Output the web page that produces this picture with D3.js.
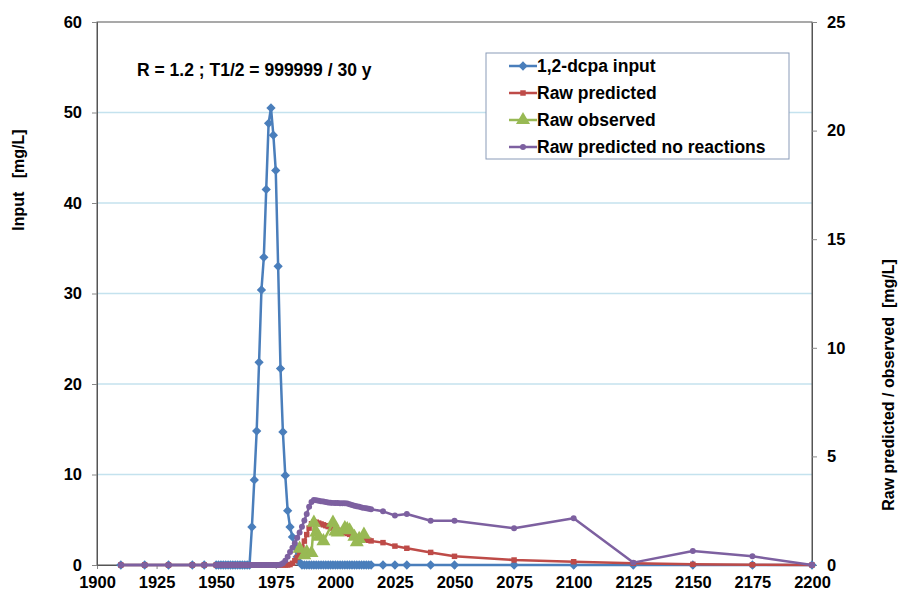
<!DOCTYPE html>
<html>
<head>
<meta charset="utf-8">
<script src="https://cdn.jsdelivr.net/npm/d3@7"></script>
<style>
  body { margin: 0; background: #fff; }
  svg text { font-family: "Liberation Sans", Arial, sans-serif; font-weight: bold; fill: #000; }
</style>
</head>
<body>
<div id="chart"></div>
<script>
// model years (same x for input, predicted and predicted no reactions)
const years = [1910, 1920, 1930, 1940, 1945,
    1950, 1951, 1952, 1953, 1954, 1955, 1956, 1957, 1958, 1959,
    1960, 1961, 1962, 1963, 1964, 1965, 1966, 1967, 1968, 1969,
    1970, 1971, 1972, 1973, 1974, 1975, 1976, 1977, 1978, 1979,
    1980, 1981, 1982, 1983, 1984, 1985, 1986, 1987, 1988, 1989,
    1990, 1991, 1992, 1993, 1994, 1995, 1996, 1997, 1998, 1999,
    2000, 2001, 2002, 2003, 2004, 2005, 2006, 2007, 2008, 2009,
    2010, 2011, 2012, 2013, 2014, 2015,
    2020, 2025, 2030, 2040, 2050, 2075, 2100, 2125, 2150, 2175, 2200];

const input = [0, 0, 0, 0, 0,
    0, 0, 0, 0, 0, 0, 0, 0, 0, 0,
    0, 0, 0, 0, 0, 4.2, 9.4, 14.8, 22.4, 30.4,
    34.0, 41.5, 48.8, 50.5, 47.5, 43.6, 33.0, 21.7, 14.7, 9.9,
    6.0, 4.2, 3.1, 2.0, 0.9, 0.3, 0, 0, 0, 0,
    0, 0, 0, 0, 0, 0, 0, 0, 0, 0,
    0, 0, 0, 0, 0, 0, 0, 0, 0, 0,
    0, 0, 0, 0, 0, 0,
    0, 0, 0, 0, 0, 0, 0, 0, 0, 0, 0];

const predicted = [0, 0, 0, 0, 0,
    0, 0, 0, 0, 0, 0, 0, 0, 0, 0,
    0, 0, 0, 0, 0, 0, 0, 0, 0, 0,
    0, 0, 0, 0, 0, 0, 0, 0, 0, 0,
    0, 0.02, 0.08, 0.2, 0.35, 0.55, 0.8, 1.1, 1.4, 1.7,
    1.9, 1.98, 1.97, 1.93, 1.89, 1.85, 1.81, 1.77, 1.73, 1.69,
    1.65, 1.61, 1.57, 1.53, 1.49, 1.45, 1.41, 1.37, 1.33, 1.29,
    1.26, 1.23, 1.2, 1.17, 1.14, 1.11,
    1.03, 0.87, 0.77, 0.58, 0.40, 0.23, 0.15, 0.08, 0.03, 0.01, 0];

const noReactions = [0, 0, 0, 0, 0,
    0, 0, 0, 0, 0, 0, 0, 0, 0, 0,
    0, 0, 0, 0, 0, 0, 0, 0, 0, 0,
    0, 0, 0, 0, 0, 0, 0, 0.02, 0.08, 0.2,
    0.38, 0.6, 0.8, 1.0, 1.25, 1.5, 1.76, 2.05, 2.35, 2.68,
    2.9, 2.99, 2.98, 2.96, 2.94, 2.92, 2.9, 2.88, 2.87, 2.86,
    2.85, 2.85, 2.84, 2.84, 2.84, 2.83, 2.8, 2.76, 2.73, 2.7,
    2.68, 2.65, 2.63, 2.61, 2.59, 2.57,
    2.47, 2.28, 2.35, 2.04, 2.04, 1.69, 2.15, 0.11, 0.64, 0.4, 0];

const obsYears = [1985, 1987, 1988, 1990, 1991, 1992, 1993, 1995, 1999,
    2000, 2001, 2004, 2005, 2006, 2008, 2009, 2010, 2012];
const observed = [0.75, 0.45, 0.6, 0.55, 1.95, 1.5, 1.3, 1.1, 1.95,
    1.55, 1.5, 1.7, 1.65, 1.6, 1.3, 1.05, 1.2, 1.4];

const xTicks = [1900, 1925, 1950, 1975, 2000, 2025, 2050, 2075, 2100, 2125, 2150, 2175, 2200];
const leftTicks = [0, 10, 20, 30, 40, 50, 60];
const rightTicks = [0, 5, 10, 15, 20, 25];

const legendLabels = ["1,2-dcpa input", "Raw predicted", "Raw observed", "Raw predicted no reactions"];

const width = 899, height = 594;
const margin = { left: 97, right: 87, top: 22, bottom: 29 };

const svg = d3.select("#chart").append("svg")
    .attr("width", width)
    .attr("height", height);

var xScale = d3.scaleLinear().domain([1900, 2200]).range([margin.left, width - margin.right]);
var yLeft = d3.scaleLinear().domain([0, 60]).range([height - margin.bottom, margin.top]);
var yRight = d3.scaleLinear().domain([0, 25]).range([height - margin.bottom, margin.top]);

// gridlines
svg.append("g")
    .selectAll("line")
    .data(leftTicks.filter(d => d > 0 && d < 60))
    .enter()
    .append("line")
    .attr("x1", xScale(1900))
    .attr("x2", xScale(2200))
    .attr("y1", d => yLeft(d))
    .attr("y2", d => yLeft(d))
    .attr("stroke", "#c4e2ee")
    .attr("stroke-width", 1.5);

// plot border
svg.append("rect")
    .attr("x", xScale(1900))
    .attr("y", yLeft(60))
    .attr("width", xScale(2200) - xScale(1900))
    .attr("height", yLeft(0) - yLeft(60))
    .attr("fill", "none")
    .attr("stroke", "#555")
    .attr("stroke-width", 1);

// axes
const xAxis = svg.append("g")
    .attr("transform", `translate(0, ${yLeft(0)})`)
    .call(d3.axisBottom(xScale).tickValues(xTicks).tickFormat(d3.format("d")).tickSize(4).tickPadding(7));

const leftAxis = svg.append("g")
    .attr("transform", `translate(${xScale(1900)}, 0)`)
    .call(d3.axisLeft(yLeft).tickValues(leftTicks).tickSize(5).tickPadding(10));

const rightAxis = svg.append("g")
    .attr("transform", `translate(${xScale(2200)}, 0)`)
    .call(d3.axisRight(yRight).tickValues(rightTicks).tickSize(5).tickPadding(10));

[xAxis, leftAxis, rightAxis].forEach(ax => {
    ax.select(".domain").attr("stroke", "#555");
    ax.selectAll(".tick line").attr("stroke", "#888");
    ax.selectAll("text").style("font-size", "16.5px").style("font-family", "Liberation Sans, Arial, sans-serif").style("font-weight", "bold");
});

// axis titles
svg.append("text")
    .attr("transform", `translate(24, 180) rotate(-90)`)
    .attr("text-anchor", "middle")
    .style("font-size", "16px")
    .text("Input\u00a0\u00a0 [mg/L]");

svg.append("text")
    .attr("transform", `translate(894, 385) rotate(-90)`)
    .attr("text-anchor", "middle")
    .style("font-size", "16px")
    .text("Raw predicted / observed\u00a0 [mg/L]");

// annotation
svg.append("text")
    .attr("x", 137)
    .attr("y", 76)
    .style("font-size", "17.5px")
    .text("R = 1.2 ; T1/2 = 999999 / 30 y");

const colors = ["#4a7ebb", "#be4b48", "#98b954", "#7d60a0"];

function symbolFor(i) {
    if (i === 0) return d3.symbol().type(d3.symbolDiamond2).size(55);
    if (i === 1) return d3.symbol().type(d3.symbolSquare).size(30);
    if (i === 2) return d3.symbol().type(d3.symbolTriangle).size(85);
    return d3.symbol().type(d3.symbolCircle).size(28);
}

function drawSeries(xs, ys, yScale, i) {
    const pts = xs.map((x, k) => [x, ys[k]]);
    const line = d3.line()
        .x(d => xScale(d[0]))
        .y(d => yScale(d[1]));
    const g = svg.append("g").classed("series-" + i, true);
    g.append("path")
        .attr("d", line(pts))
        .attr("fill", "none")
        .attr("stroke", colors[i])
        .attr("stroke-width", 2.5)
        .attr("stroke-linejoin", "round");
    g.selectAll("path.mark")
        .data(pts)
        .enter()
        .append("path")
        .classed("mark", true)
        .attr("transform", d => `translate(${xScale(d[0])}, ${yScale(d[1])})`)
        .attr("d", symbolFor(i)())
        .attr("fill", colors[i]);
}

drawSeries(years, input, yLeft, 0);
drawSeries(years, predicted, yRight, 1);
drawSeries(obsYears, observed, yRight, 2);
drawSeries(years, noReactions, yRight, 3);

// legend
const legend = svg.append("g").attr("transform", "translate(486, 53)");
legend.append("rect")
    .attr("width", 303)
    .attr("height", 106)
    .attr("fill", "#fff")
    .attr("stroke", "#8a9bb8")
    .attr("stroke-width", 1);

legendLabels.forEach((label, i) => {
    const cy = 13 + i * 27;
    legend.append("line")
        .attr("x1", 23)
        .attr("x2", 51)
        .attr("y1", cy)
        .attr("y2", cy)
        .attr("stroke", colors[i])
        .attr("stroke-width", 2.5);
    legend.append("path")
        .attr("transform", `translate(37, ${cy})`)
        .attr("d", symbolFor(i)())
        .attr("fill", colors[i]);
    legend.append("text")
        .attr("x", 51)
        .attr("y", cy + 6)
        .style("font-size", "17.5px")
        .text(label);
});
</script>
</body>
</html>
